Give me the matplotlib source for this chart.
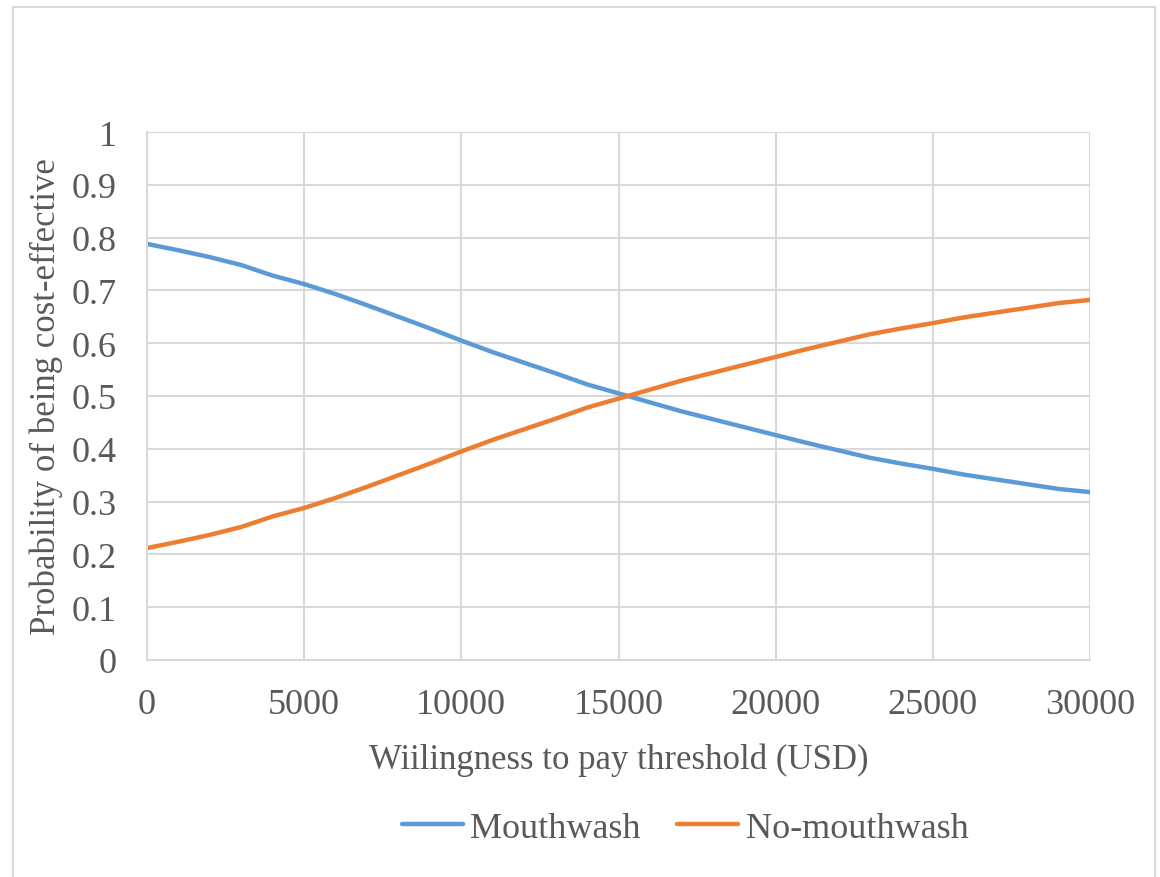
import numpy as np
import matplotlib
matplotlib.use("Agg")
import matplotlib.pyplot as plt
from matplotlib.patches import Rectangle

# willingness-to-pay thresholds (USD)
wtp = list(range(0, 30001, 1000))

mouthwash = [0.788, 0.776, 0.763, 0.748, 0.728, 0.712, 0.693, 0.672, 0.650, 0.628,
             0.605, 0.583, 0.563, 0.543, 0.522, 0.505, 0.488, 0.471, 0.456, 0.441,
             0.426, 0.411, 0.397, 0.383, 0.372, 0.362, 0.351, 0.342, 0.333, 0.324,
             0.318]
no_mouthwash = [0.212, 0.224, 0.237, 0.252, 0.272, 0.288, 0.307, 0.328, 0.350, 0.372,
                0.395, 0.417, 0.437, 0.457, 0.478, 0.495, 0.512, 0.529, 0.544, 0.559,
                0.574, 0.589, 0.603, 0.617, 0.628, 0.638, 0.649, 0.658, 0.667, 0.676,
                0.682]

x_ticks = [0, 5000, 10000, 15000, 20000, 25000, 30000]
y_ticks = [0, 0.1, 0.2, 0.3, 0.4, 0.5, 0.6, 0.7, 0.8, 0.9, 1]
y_tick_labels = ["0", "0.1", "0.2", "0.3", "0.4", "0.5", "0.6", "0.7", "0.8", "0.9", "1"]

plt.rcParams['font.family'] = ['Liberation Serif', 'DejaVu Serif']
text_col = '#595959'
grid_col = '#d9d9d9'

fig = plt.figure(figsize=(11.6, 8.78), dpi=100)
W, H = 1160, 878
ax = fig.add_axes([147 / W, 1 - 661 / H, (1090 - 147) / W, (661 - 133) / H])

ax.plot(wtp, mouthwash, color='#5b9bd5', lw=3.2, label='Mouthwash', solid_capstyle='round')
ax.plot(wtp, no_mouthwash, color='#ed7d31', lw=3.2, label='No-mouthwash', solid_capstyle='round')

ax.set_xlim(0, 30000)
ax.set_ylim(0, 1)
ax.set_xticks(x_ticks)
ax.set_xticklabels([str(t) for t in x_ticks])
ax.set_yticks(y_ticks)
ax.set_yticklabels(y_tick_labels)
ax.tick_params(length=0, labelsize=26, labelcolor=text_col)
ax.tick_params(axis='x', pad=20)
ax.tick_params(axis='y', pad=22)

ax.grid(True, color=grid_col, lw=1.5)
ax.set_axisbelow(True)
for side in ['top', 'right']:
    ax.spines[side].set_visible(False)
for side in ['left', 'bottom']:
    ax.spines[side].set_color(grid_col)
    ax.spines[side].set_linewidth(1.5)

ax.set_xlabel('Wiilingness to pay threshold (USD)', fontsize=25, color=text_col, labelpad=16)
ax.set_ylabel('Probability of being cost-effective', fontsize=25, color=text_col, labelpad=6)

fig.legend(loc='center', bbox_to_anchor=(685 / W, 1 - 829 / H), ncol=2, frameon=False,
           fontsize=26, labelcolor=text_col, handlelength=1.7, handletextpad=0.2,
           columnspacing=1.0)

fig.patches.append(Rectangle((13 / W, -0.05), (1155 - 13) / W, 1.05 - 8 / H,
                             transform=fig.transFigure, fill=False,
                             edgecolor=grid_col, lw=1.5))

fig.savefig('out.png', dpi=100)
